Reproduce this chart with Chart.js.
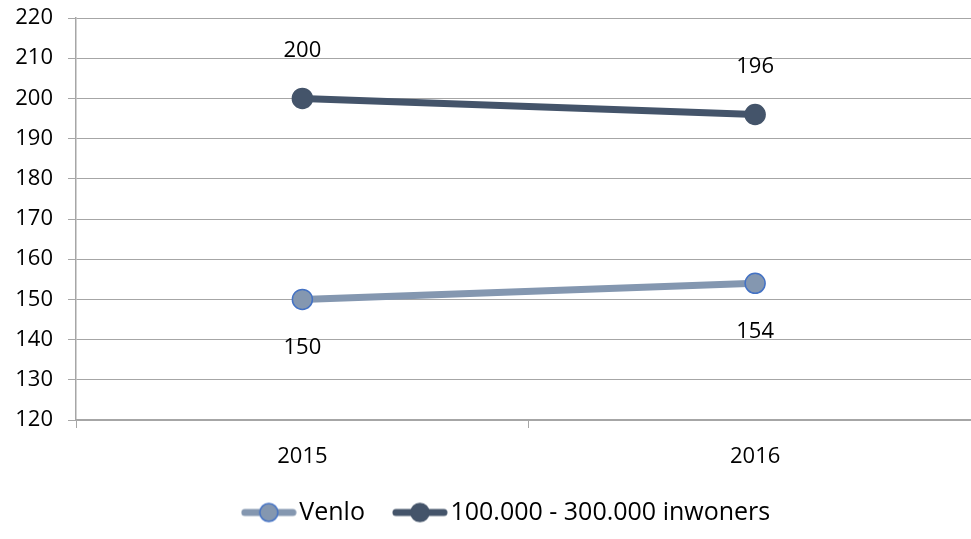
<!DOCTYPE html>
<html>
<head>
<meta charset="utf-8">
<script src="https://cdn.jsdelivr.net/npm/chart.js@4"></script>
<style>
  html, body { margin: 0; padding: 0; background: #fff; overflow: hidden; }
  #wrap { width: 993px; height: 539px; }
</style>
</head>
<body>
<div id="wrap"><canvas id="lineChart"></canvas></div>
<script>
// data
const years = ["2015", "2016"];
const venlo = [150, 154];
const cities = [200, 196];
const seriesNames = ["Venlo", "100.000 - 300.000 inwoners"];
const yTicks = [120, 130, 140, 150, 160, 170, 180, 190, 200, 210, 220];

const FONT = "'Open Sans', 'Noto Sans', sans-serif";

// legend symbol: line with a circle in the middle
function legendIcon(lineColor, fill, border) {
  const c = document.createElement("canvas");
  c.width = 56;
  c.height = 22;
  const g = c.getContext("2d");
  g.strokeStyle = lineColor;
  g.lineWidth = 7;
  g.lineCap = "round";
  g.beginPath();
  g.moveTo(4, 11);
  g.lineTo(52, 11);
  g.stroke();
  g.beginPath();
  g.arc(28, 11, 9, 0, Math.PI * 2);
  g.fillStyle = fill;
  g.fill();
  g.lineWidth = 1.5;
  g.strokeStyle = border;
  g.stroke();
  return c;
}

// value labels above / below points
const valueLabels = {
  id: "valueLabels",
  afterLayout(chart) {
    // move the legend a bit right and up
    chart.legend.left += 14;
    chart.legend.right += 14;
    chart.legend.top -= 15;
    chart.legend.bottom -= 15;
  },
  afterDatasetsDraw(chart) {
    const ctx = chart.ctx;
    ctx.save();
    ctx.font = "22px " + FONT;
    ctx.fillStyle = "#000";
    ctx.textAlign = "center";
    ctx.textBaseline = "middle";
    chart.data.datasets.forEach((ds, i) => {
      chart.getDatasetMeta(i).data.forEach((pt, j) => {
        const dy = ds.labelSide === "below" ? 48 : -48;
        ctx.fillText(ds.data[j], pt.x, pt.y + dy);
      });
    });
    ctx.restore();
  },
};

const ctx = document.getElementById("lineChart").getContext("2d");
new Chart(ctx, {
  type: "line",
  data: {
    labels: years,
    datasets: [
      {
        label: seriesNames[0],
        data: venlo,
        borderColor: "#8497b0",
        backgroundColor: "#8497b0",
        borderWidth: 7,
        pointRadius: 10,
        pointBackgroundColor: "#8497b0",
        pointBorderColor: "#4472c4",
        pointBorderWidth: 1.5,
        labelSide: "below",
        icon: legendIcon("#8497b0", "#8497b0", "#4472c4"),
      },
      {
        label: seriesNames[1],
        data: cities,
        borderColor: "#44546a",
        backgroundColor: "#44546a",
        borderWidth: 7,
        pointRadius: 10,
        pointBackgroundColor: "#44546a",
        pointBorderColor: "#44546a",
        pointBorderWidth: 1.5,
        labelSide: "above",
        icon: legendIcon("#44546a", "#44546a", "#44546a"),
      },
    ],
  },
  options: {
    responsive: true,
    maintainAspectRatio: false,
    animation: false,
    layout: { padding: { top: 18, right: 0, bottom: -11, left: 0 } },
    plugins: {
      tooltip: { enabled: false },
      legend: {
        position: "bottom",
        labels: {
          usePointStyle: true,
          pointStyleWidth: 36,
          padding: 37,
          color: "#000",
          font: { family: FONT, size: 25 },
          generateLabels(chart) {
            return chart.data.datasets.map((ds, i) => ({
              text: ds.label,
              pointStyle: ds.icon,
              datasetIndex: i,
              hidden: false,
              lineWidth: 0,
              fontColor: "#000",
            }));
          },
        },
      },
    },
    scales: {
      x: {
        offset: true,
        grid: {
          offset: true,
          drawOnChartArea: false,
          color: "#a6a6a6",
          tickLength: 8,
        },
        border: { color: "#a6a6a6", width: 1.5 },
        ticks: {
          color: "#000",
          padding: 16,
          font: { family: FONT, size: 22 },
        },
        afterFit(scale) {
          scale.height = 58;
          scale.paddingLeft = 0;
          scale.paddingRight = 0;
        },
      },
      y: {
        min: 120,
        max: 220,
        afterBuildTicks(scale) {
          scale.ticks = yTicks.map((v) => ({ value: v }));
        },
        grid: { color: "#a6a6a6", tickLength: 8 },
        border: { color: "#a6a6a6", width: 1.5 },
        ticks: {
          color: "#000",
          padding: 15,
          font: { family: FONT, size: 22 },
        },
        afterFit(scale) {
          scale.width = 76;
          scale.paddingTop = 0;
          scale.paddingBottom = 0;
        },
      },
    },
  },
  plugins: [valueLabels],
});
</script>
</body>
</html>
